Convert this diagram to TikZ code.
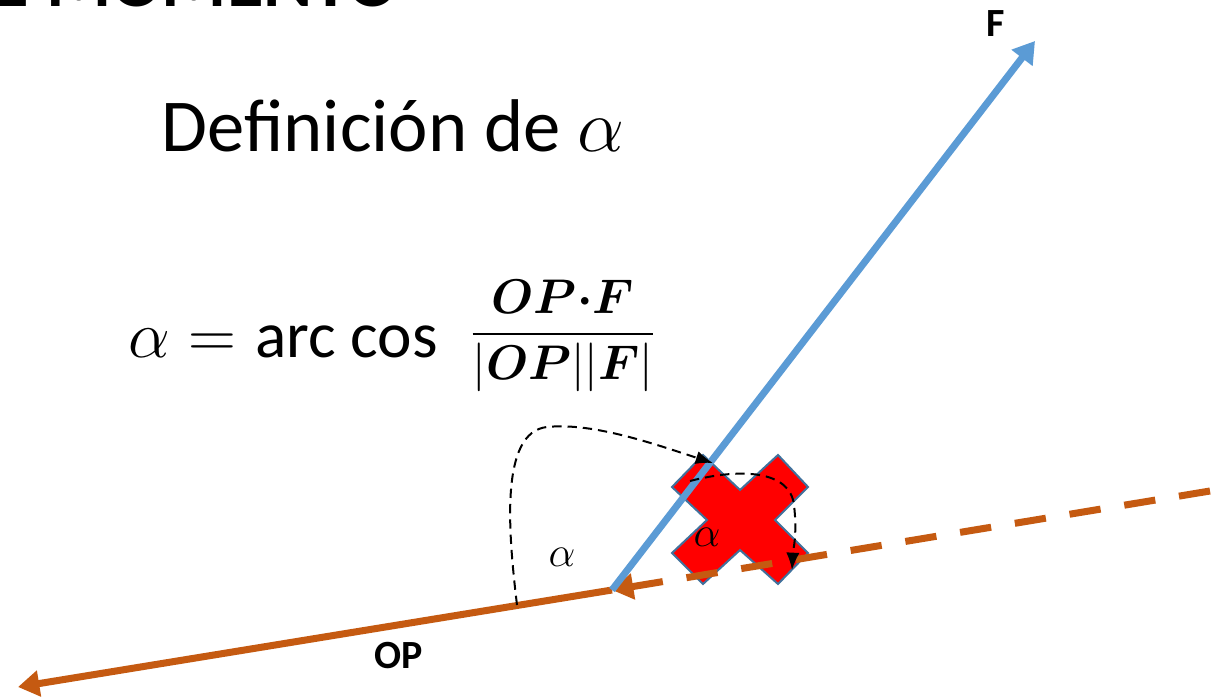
\documentclass[tikz,border=0pt]{standalone}
\usepackage{amsmath}
\usepackage{fontspec}
\setmainfont{Carlito}
\usetikzlibrary{arrows.meta,positioning}
\definecolor{forceblue}{HTML}{5B9BD5}
\definecolor{oporange}{HTML}{C55A11}
\definecolor{crossred}{HTML}{FF0000}
\definecolor{crossedge}{HTML}{41719C}
\newcommand{\bigmath}[2]{\scalebox{#1}{\fontsize{20.74}{25}\selectfont$#2$}}

\begin{document}
\begin{tikzpicture}[x=0.75pt,y=-0.75pt,
  vec/.style={line width=5.25pt,-{Triangle[length=16pt,width=19pt]}},
  angarrow/.style={black,line width=1.5pt,dash pattern=on 7pt off 4.5pt,-{Latex[length=13pt,width=10pt]}},
  lbl/.style={font=\fontsize{30}{36}\selectfont\bfseries}]
\useasboundingbox (0,0) rectangle (1220,698);
\clip (0,0) rectangle (1220,698);
\fill[white] (0,0) rectangle (1220,698);
\node[anchor=base west,font=\fontsize{56}{60}\selectfont\bfseries] (topic) at (-12,7) {E MOMENTO};
\node[anchor=base west,font=\fontsize{56}{60}\selectfont] (defn) at (157,152) {Definición de \bigmath{2.7}{\alpha}};
\node[anchor=base west,font=\fontsize{49}{56}\selectfont] (formula) at (124,358)
  {\bigmath{2.4}{\alpha = {}}arc cos\hspace{24pt}\raisebox{9pt}{\bigmath{1.76}{\dfrac{\boldsymbol{OP{\cdot}F}}{|\boldsymbol{OP}||\boldsymbol{F}|}}}};
\coordinate (O) at (612,590);
\coordinate (Ftip) at (1035,41);
\coordinate (OPtip) at (18,687);
\coordinate (tail) at (1210,491);
\coordinate (a1) at (517,605);
\coordinate (a2) at (713,463);
\coordinate (b1) at (690,481);
\coordinate (b2) at (792,570);
% cross
\filldraw[fill=crossred,draw=crossedge,line width=1.5pt] (672,487) -- (703,455) -- (740,490) -- (778,455) -- (808,487) -- (775,520)
  -- (808,553) -- (778,584) -- (740,550) -- (703,584) -- (672,553) -- (707,520) -- cycle;
\draw[vec,oporange,dash pattern=on 23.6pt off 18pt] (tail) -- (O);
\draw[vec,oporange] (O) -- (OPtip);
\draw[vec,forceblue] (O) -- (Ftip);
\draw[angarrow] (a1) .. controls (508,530) and (500,432) .. (547,427) .. controls (594,422) and (660,446) .. (a2);
\draw[angarrow] (b1) .. controls (740,468) and (790,470) .. (794,505) .. controls (797.5,535) and (793,550) .. (b2);
\node (alpha1) at (562,557) {\bigmath{1.54}{\alpha}};
\node (alpha2) at (707,537) {\bigmath{1.54}{\alpha}};
\node[lbl] (Flbl) at (996,24) {F};
\node[lbl] (OPlbl) at (399,656) {OP};
\end{tikzpicture}
\end{document}
